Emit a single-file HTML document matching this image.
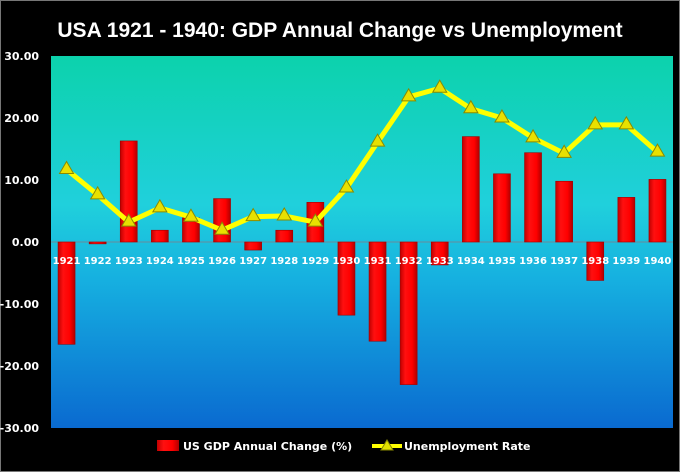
<!DOCTYPE html>
<html><head><meta charset="utf-8"><style>
body{margin:0;background:#000;}
svg{display:block;font-family:"DejaVu Sans","Liberation Sans",sans-serif;}
</style></head><body>
<svg id="c" width="680" height="472">
<defs>
<linearGradient id="bg" x1="0" y1="0" x2="0" y2="1">
<stop offset="0" stop-color="#0cd2ac"/><stop offset="0.4" stop-color="#20d0dc"/><stop offset="0.6" stop-color="#16b0e0"/><stop offset="1" stop-color="#0a6ad0"/>
</linearGradient>
<linearGradient id="bar" x1="0" y1="0" x2="1" y2="0">
<stop offset="0" stop-color="#c00000"/><stop offset="0.3" stop-color="#ff1010"/><stop offset="0.7" stop-color="#ff0000"/><stop offset="1" stop-color="#b00000"/>
</linearGradient>
</defs>
<rect x="0.5" y="0.5" width="679" height="471" fill="#000" stroke="#777"/>
<text x="340" y="37" fill="#fff" font-size="21" font-weight="bold" text-anchor="middle" font-family="Liberation Sans,sans-serif">USA 1921 - 1940: GDP Annual Change vs Unemployment</text>
<rect x="51" y="56" width="622" height="372" fill="url(#bg)"/>
<g id="yaxis"></g><g id="bars"></g><g id="line"></g><g id="xlab"></g>
<g>
<rect x="157" y="440" width="22" height="11" fill="url(#bar)"/>
<text x="183" y="450" fill="#fff" font-size="11" font-weight="bold">US GDP Annual Change (%)</text>
<line x1="372" y1="446" x2="402" y2="446" stroke="#ffff00" stroke-width="4"/>
<polygon points="387,440 393,450 381,450" fill="#e0e000" stroke="#888800"/>
<text x="404" y="450" fill="#fff" font-size="11" font-weight="bold">Unemployment Rate</text>
</g>
</svg>
<script>
const years=["1921","1922","1923","1924","1925","1926","1927","1928","1929","1930","1931","1932","1933","1934","1935","1936","1937","1938","1939","1940"];
const gdp=[-16.5,-0.3,16.3,1.9,3.9,7.0,-1.3,1.9,6.4,-11.8,-16.0,-23.0,-3.7,17.0,11.0,14.4,9.8,-6.2,7.2,10.1];
const unemp=[11.7,7.6,3.2,5.5,4.0,1.9,4.1,4.2,3.2,8.7,16.1,23.4,24.8,21.5,20.0,16.8,14.3,18.9,18.9,14.5];
const yTicks=[30,20,10,0,-10,-20,-30];
const NS="http://www.w3.org/2000/svg";
const X0=51,W=622,Y0=242,PX=6.2;
const step=W/years.length;
const xc=i=>X0+step*(i+0.5);
const y=v=>Y0-v*PX;
function mk(t,a,p){const e=document.createElementNS(NS,t);for(const k in a)e.setAttribute(k,a[k]);p.appendChild(e);return e;}
const ya=document.getElementById('yaxis');
yTicks.forEach(v=>{const t=mk('text',{x:39,y:y(v)+4,fill:'#fff','font-size':11,'font-weight':'bold','text-anchor':'end'},ya);t.textContent=v.toFixed(2);

});
const zl=mk('line',{x1:X0,x2:X0+W,y1:Y0,y2:Y0,stroke:'#6a8a9a','stroke-width':1},ya);


const bg=document.getElementById('bars');
gdp.forEach((v,i)=>{const top=Math.min(y(v),Y0),h=Math.max(Math.abs(v*PX),1.5);
const r=mk('rect',{x:xc(i)-8.5,y:top,width:17,height:h,fill:'url(#bar)',stroke:'#a00000','stroke-width':0.6},bg);

});
const lg=document.getElementById('line');
const pl=mk('polyline',{points:unemp.map((v,i)=>xc(i)+','+y(v)).join(' '),fill:'none',stroke:'#ffff00','stroke-width':5,'stroke-linejoin':'round'},lg);


unemp.forEach((v,i)=>{const cx=xc(i),cy=y(v);
const m=mk('polygon',{points:`${cx},${cy-8} ${cx+7},${cy+4} ${cx-7},${cy+4}`,fill:'#e8e000',stroke:'#8a8a00','stroke-width':1},lg);

});
const xl=document.getElementById('xlab');
years.forEach((t,i)=>{const e=mk('text',{x:xc(i),y:264,fill:'#fff','font-size':10,'font-weight':'bold','text-anchor':'middle'},xl);e.textContent=t;

});
</script>
</body></html>
